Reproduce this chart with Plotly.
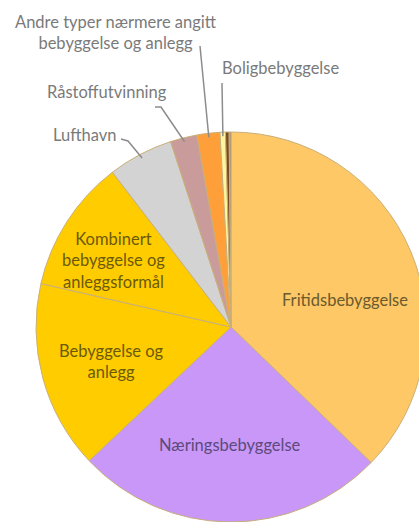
import math
import plotly.graph_objects as go

# arealformål, andel i prosent (lest av figuren)
labels = ["Fritidsbebyggelse", "Næringsbebyggelse", "Bebyggelse og anlegg",
          "Kombinert bebyggelse og anleggsformål", "Lufthavn", "Råstoffutvinning",
          "Andre typer nærmere angitt bebyggelse og anlegg", "Boligbebyggelse",
          "Øvrige formål", "Uoppgitt"]
values = [37.2, 25.7, 15.6, 11.0, 5.4, 2.2, 1.9, 0.45, 0.3, 0.15]
colors = ["#FDC865", "#C897F8", "#FFCC00", "#FFCC00", "#D3D3D3", "#C99B9B",
          "#FF9F3A", "#FFF59C", "#7A4A22", "#A08878"]

W, H = 426, 522          # a bit wider than the window: the pie is cut on the right
CX, CY, R = 231, 327, 195

fig = go.Figure(go.Pie(
    labels=labels, values=values, sort=False, direction="clockwise", rotation=0,
    marker=dict(colors=colors, line=dict(color="#C9B07A", width=1)),
    textinfo="none", hoverinfo="label+percent",
    domain=dict(x=[(CX - R) / W, (CX + R) / W], y=[1 - (CY + R) / H, 1 - (CY - R) / H]),
    showlegend=False,
))


def edge(idx, rr):
    # midpoint of slice idx on the circle of radius rr, in paper coords
    total = sum(values)
    a = (sum(values[:idx]) + values[idx] / 2) / total * 2 * math.pi
    return (CX + rr * math.sin(a)) / W, 1 - (CY - rr * math.cos(a)) / H


def p(x, y):
    return x / W, 1 - y / H


FONT = "Lato"

# labels inside the big slices
inside = [
    ("Fritidsbebyggelse", (345, 300), "#6B5A2E"),
    ("Næringsbebyggelse", (230, 445), "#5C4A7C"),
    ("Bebyggelse og<br>anlegg", (111, 361), "#6B5A0A"),
    ("Kombinert<br>bebyggelse og<br>anleggsformål", (113, 260), "#6B5A0A"),
]
for txt, (tx, ty), col in inside:
    x, y = p(tx, ty)
    fig.add_annotation(x=x, y=y, xref="paper", yref="paper", text=txt, showarrow=False,
                       font=dict(family=FONT, size=16.5, color=col),
                       xanchor="center", yanchor="middle")

# labels outside with leader lines
outside = [
    (6, "Andre typer nærmere angitt<br>bebyggelse og anlegg", (116, 33), [(200, 46)]),
    (7, "Boligbebyggelse", (280, 68), [(222, 83)]),
    (5, "Råstoffutvinning", (107, 92), [(155, 107), (161, 107)]),
    (4, "Lufthavn", (84, 135), [(121, 139), (128, 141)]),
]
for idx, txt, (tx, ty), pts in outside:
    x, y = p(tx, ty)
    fig.add_annotation(x=x, y=y, xref="paper", yref="paper", text=txt, showarrow=False,
                       font=dict(family=FONT, size=16.5, color="#7A7A7A"),
                       xanchor="center", yanchor="middle")
    ex, ey = edge(idx, R - 4)
    path = "M " + " L ".join(f"{a},{b}" for a, b in [p(*q) for q in pts] + [(ex, ey)])
    fig.add_shape(type="path", path=path, xref="paper", yref="paper",
                  line=dict(color="#8C8C8C", width=1.5))

fig.update_layout(width=W, height=H, margin=dict(l=0, r=0, t=0, b=0),
                  paper_bgcolor="white", plot_bgcolor="white")
fig.write_html("out.html", config={"displayModeBar": False},
               post_script="document.body.style.margin='0';document.body.style.overflow='hidden';")
